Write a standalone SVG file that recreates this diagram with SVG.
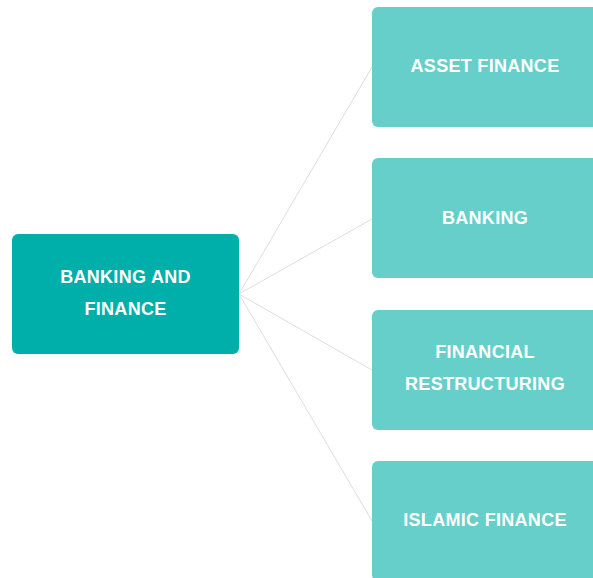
<svg xmlns="http://www.w3.org/2000/svg" width="593" height="578" viewBox="0 0 593 578">
<style>
.main{fill:#00AFA9}
.sub{fill:#66CFCA}
.t{font-family:"Liberation Sans",Arial,sans-serif;font-weight:bold;font-size:18px;letter-spacing:0.3px;fill:#FFFFFF;text-anchor:middle}
.c{stroke:#DDDDDD;stroke-width:1;fill:none}
</style>
<rect width="593" height="578" fill="#FFFFFF"/>
<g id="connectors">
<line class="c" x1="239" y1="294" x2="372" y2="67"/>
<line class="c" x1="239" y1="294" x2="372" y2="219"/>
<line class="c" x1="239" y1="294" x2="372" y2="370"/>
<line class="c" x1="239" y1="294" x2="372" y2="521"/>
</g>
<g id="node-banking-and-finance">
<rect class="main" x="12" y="234" width="227" height="120" rx="6"/>
<text class="t" x="125.5" y="283">BANKING AND</text>
<text class="t" x="125.5" y="315">FINANCE</text>
</g>
<g id="node-asset-finance">
<rect class="sub" x="372" y="7" width="227" height="120" rx="6"/>
<text class="t" x="485" y="72">ASSET FINANCE</text>
</g>
<g id="node-banking">
<rect class="sub" x="372" y="158" width="227" height="120" rx="6"/>
<text class="t" x="485" y="224">BANKING</text>
</g>
<g id="node-financial-restructuring">
<rect class="sub" x="372" y="310" width="227" height="120" rx="6"/>
<text class="t" x="485" y="358">FINANCIAL</text>
<text class="t" x="485" y="390">RESTRUCTURING</text>
</g>
<g id="node-islamic-finance">
<rect class="sub" x="372" y="461" width="227" height="120" rx="6"/>
<text class="t" x="485" y="526">ISLAMIC FINANCE</text>
</g>
</svg>
